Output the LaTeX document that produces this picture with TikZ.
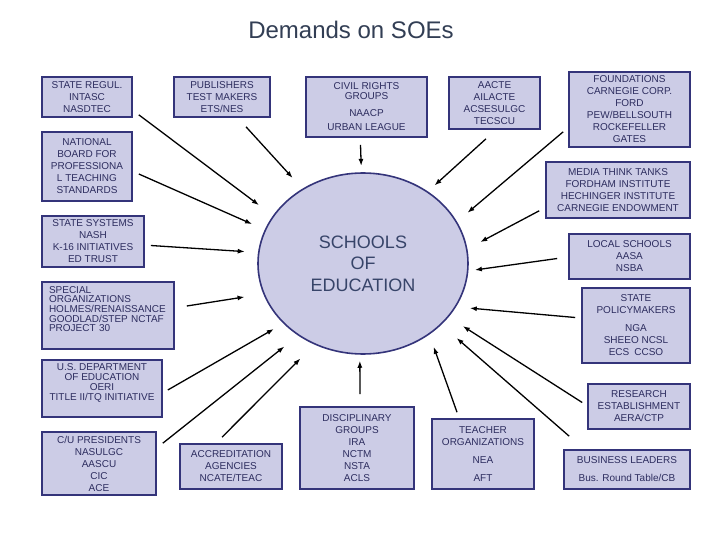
\documentclass[tikz,border=0pt]{standalone}
\usepackage{fontspec}
\setmainfont{Liberation Sans}
\usetikzlibrary{arrows.meta,shapes.geometric}
\definecolor{boxfill}{RGB}{204,204,230}
\definecolor{boxline}{RGB}{52,52,122}
\definecolor{boxtext}{RGB}{45,45,95}
\definecolor{titletext}{RGB}{50,62,84}
\definecolor{soetext}{RGB}{55,68,105}

\begin{document}
\begin{tikzpicture}[x=1pt,y=-1pt,
  agency/.style={draw=boxline,fill=boxfill,line width=1.6pt,text=boxtext,
    font=\fontsize{10}{12}\selectfont,align=center,inner sep=0pt},
  demand/.style={-{Latex[length=7pt,width=5pt]},line width=1.3pt,shorten >=#1}]
\fill[white] (0,0) rectangle (720,540);
\node[text=titletext,font=\fontsize{24}{28}\selectfont] (title) at (351,30) {Demands on SOEs};
\node[ellipse,draw=boxline,fill=boxfill,line width=1.6pt,minimum width=210pt,minimum height=181pt,
  inner sep=0pt,text=soetext,font=\fontsize{18}{21.5}\selectfont,align=center]
  (soe) at (363,263.5) {SCHOOLS\\OF\\EDUCATION};

\node[agency,minimum width=90pt,minimum height=40pt] (regul) at (87,97) {STATE REGUL.\\INTASC\\NASDTEC};
\node[agency,minimum width=96pt,minimum height=40pt] (pub) at (222,97) {PUBLISHERS\\TEST MAKERS\\ETS/NES};
\node[agency,minimum width=121pt,minimum height=60pt] (civil) at (366.5,107) {CIVIL RIGHTS\\[-2.5pt]GROUPS\\[5.5pt]NAACP\\[2pt]URBAN LEAGUE};
\node[agency,minimum width=91pt,minimum height=52pt] (aacte) at (494.5,103) {AACTE\\AILACTE\\ACSESULGC\\TECSCU};
\node[agency,minimum width=121pt,minimum height=75pt] (found) at (629.5,109.5) {FOUNDATIONS\\CARNEGIE CORP.\\FORD\\PEW/BELLSOUTH\\ROCKEFELLER\\GATES};
\node[agency,minimum width=144pt,minimum height=56pt] (media) at (618,190) {MEDIA THINK TANKS\\FORDHAM INSTITUTE\\HECHINGER INSTITUTE\\CARNEGIE ENDOWMENT};
\node[agency,minimum width=90pt,minimum height=69pt] (natl) at (87,166.5) {NATIONAL\\BOARD FOR\\PROFESSIONA\\L TEACHING\\STANDARDS};
\node[agency,minimum width=102pt,minimum height=51pt] (statesys) at (93,241.5) {STATE SYSTEMS\\NASH\\K-16 INITIATIVES\\ED TRUST};
\node[agency,minimum width=132pt,minimum height=67pt,text width=118pt,align=left,
  font=\fontsize{10}{9.6}\selectfont] (special) at (108,315.5) {SPECIAL\\ORGANIZATIONS\\HOLMES/RENAISSANCE\\GOODLAD/STEP NCTAF\\PROJECT 30\rule[-13pt]{0pt}{0pt}};
\node[agency,minimum width=120pt,minimum height=57pt,font=\fontsize{10}{10}\selectfont] (usdept) at (102,388.5) {U.S. DEPARTMENT\\OF EDUCATION\\OERI\\TITLE II/TQ INITIATIVE\rule[-13pt]{0pt}{0pt}};
\node[agency,minimum width=114pt,minimum height=63pt] (cupres) at (99,463.5) {C/U PRESIDENTS\\NASULGC\\AASCU\\CIC\\ACE};
\node[agency,minimum width=102pt,minimum height=45pt] (accred) at (231,466.5) {ACCREDITATION\\AGENCIES\\NCATE/TEAC};
\node[agency,minimum width=114pt,minimum height=82pt] (discip) at (357,448) {DISCIPLINARY\\GROUPS\\IRA\\NCTM\\NSTA\\ACLS};
\node[agency,minimum width=102pt,minimum height=70pt] (teacher) at (483,454) {TEACHER\\ORGANIZATIONS\\[6pt]NEA\\[6pt]AFT};
\node[agency,minimum width=126pt,minimum height=39pt] (business) at (627,469.5) {BUSINESS LEADERS\\[6pt]Bus. Round Table/CB};
\node[agency,minimum width=102pt,minimum height=45pt] (research) at (639,406.5) {RESEARCH\\ESTABLISHMENT\\AERA/CTP};
\node[agency,minimum width=108pt,minimum height=75pt] (policy) at (636,325.5) {STATE\\POLICYMAKERS\\[6pt]NGA\\SHEEO NCSL\\ECS\enspace CCSO};
\node[agency,minimum width=121pt,minimum height=45pt] (local) at (629.5,256.5) {LOCAL SCHOOLS\\AASA\\NSBA};

\draw[demand=17.5] ([shift={(6,-3)}]regul.south east) -- (soe.152.7);
\draw[demand=13.8] ([shift={(6,7.5)}]natl.east) -- (soe.161.8);
\draw[demand=14.5] ([shift={(24,9)}]pub.south) -- (soe.129.3);
\draw[demand=6.3] ([shift={(-6,7)}]civil.south) -- (soe.91.8);
\draw[demand=8.9] ([shift={(-8.5,9)}]aacte.south) -- (soe.48.4);
\draw[demand=13.7] ([shift={(-5,-16)}]found.south west) -- (soe.24.5);
\draw[demand=14.5] ([shift={(-6,-8)}]media.south west) -- (soe.8.9);
\draw[demand=6.5] ([shift={(-11,2)}]local.west) -- (soe.356.7);
\draw[demand=13.8] ([shift={(-6,-8)}]policy.west) -- (soe.335.4);
\draw[demand=16.8] ([shift={(-5,-4)}]research.west) -- (soe.328.3);
\draw[demand=20.2] ([shift={(6,-13)}]business.north west) -- (soe.322);
\draw[demand=13] ([shift={(-26,-6)}]teacher.north) -- (soe.313.4);
\draw[demand=6] ([shift={(3,-12)}]discip.north) -- (soe.268.2);
\draw[demand=13.2] ([shift={(6,4)}]statesys.east) -- (soe.174.3);
\draw[demand=19] ([shift={(12,-9.5)}]special.east) -- (soe.197);
\draw[demand=10.9] ([shift={(5,1.5)}]usdept.east) -- (soe.217.6);
\draw[demand=17.6] ([shift={(6,12)}]cupres.north east) -- (soe.228.2);
\draw[demand=19.7] ([shift={(-9,-6)}]accred.north) -- (soe.239.3);
\end{tikzpicture}
\end{document}
